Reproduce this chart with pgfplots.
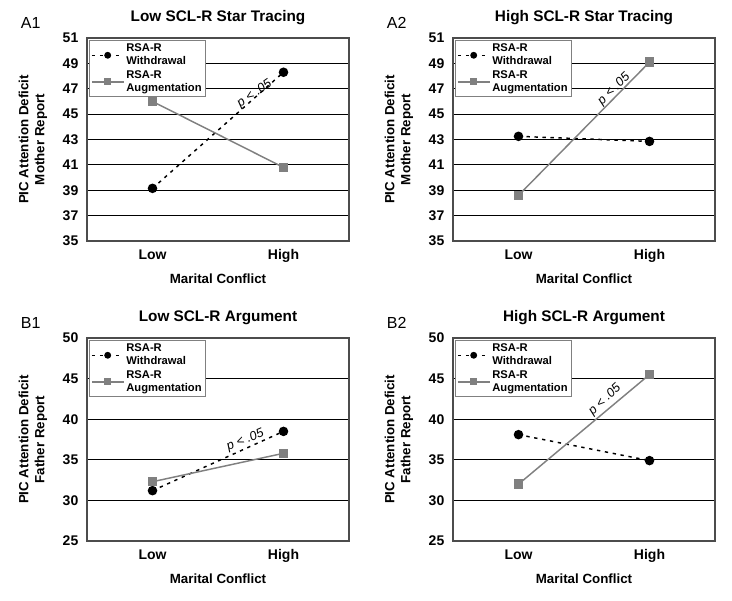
\documentclass[border=0pt]{standalone}
\usepackage{fontspec}
\setmainfont{Liberation Sans}
\usepackage{pgfplots}
\pgfplotsset{compat=1.18}
\pgfplotsset{
 panel/.style={
  scale only axis, width=196.5pt, height=152.25pt,
  xmin=-0.5, xmax=1.5, xtick={0,1}, xticklabels={Low,High},
  ymajorgrids, grid style={black, line width=0.9pt},
  axis line style={black!70, line width=0.8pt},
  major tick length=0pt,
  tick label style={font=\fontsize{10.5}{12}\selectfont\bfseries},
  /pgf/number format/assume math mode=true,
  yticklabel style={xshift=-3pt},
  xticklabel style={yshift=-3pt},
  title style={at={(0.5,1)}, anchor=base, yshift=6.75pt, font=\fontsize{11.5}{13}\selectfont\bfseries},
  xlabel={Marital Conflict},
  xlabel style={at={(axis description cs:0.5,-0.207)}, anchor=base, font=\fontsize{10}{12}\selectfont\bfseries},
  ylabel style={at={(axis description cs:-0.206,0.5)}, anchor=center, align=center, font=\fontsize{10}{12}\selectfont\bfseries},
  legend cell align=left,
  legend style={at={(0.008,0.99)}, anchor=north west, draw=black!50, line width=0.5pt, font=\fontsize{8.4}{9.6}\selectfont\bfseries, nodes={align=left, inner sep=1.5pt}, row sep=0pt, inner sep=1.2pt},
  legend image code/.code={\draw[mark repeat=2, mark phase=2, mark size=2pt] plot coordinates {(0cm,0cm)(0.42cm,0cm)(0.84cm,0cm)};},
 },
 wd/.style={black, line width=1.1pt, dash pattern=on 2.5pt off 3.5pt, mark=*, mark size=3pt, mark options={solid}},
 au/.style={black!50, line width=1.1pt, mark=square*, mark size=3pt, mark options={solid}},
}
\tikzset{pnote/.style={font=\fontsize{9.5}{11}\selectfont\itshape, anchor=center},
  plabel/.style={anchor=base west, inner sep=0pt, font=\fontsize{12}{14}\selectfont}}
\begin{document}
\begin{tikzpicture}
\useasboundingbox (0,0) rectangle (549pt,-450pt);
\node[plabel] at (15.5pt,-21pt) {A1};
\node[plabel] at (290pt,-21pt) {A2};
\node[plabel] at (15.5pt,-246pt) {B1};
\node[plabel] at (290pt,-246pt) {B2};

% A1
\begin{axis}[panel, at={(65.25pt,-28.5pt)}, anchor=north west,
  title={Low SCL-R Star Tracing}, ylabel={PIC Attention Deficit\\Mother Report},
  ymin=35, ymax=51, ytick={35,37,...,51}]
\addplot[wd] coordinates {(0,39.15) (1,48.3)};
\addlegendentry{RSA-R\\Withdrawal}
\addplot[au] coordinates {(0,46.0) (1,40.8)};
\addlegendentry{RSA-R\\Augmentation}
\node[pnote, rotate=35] at (axis cs:0.78,46.6) {p < .05};
\end{axis}

% A2
\begin{axis}[panel, at={(339.75pt,-28.5pt)}, anchor=north west,
  title={High SCL-R Star Tracing}, ylabel={PIC Attention Deficit\\Mother Report},
  ymin=35, ymax=51, ytick={35,37,...,51}]
\addplot[wd] coordinates {(0,43.25) (1,42.85)};
\addlegendentry{RSA-R\\Withdrawal}
\addplot[au] coordinates {(0,38.6) (1,49.1)};
\addlegendentry{RSA-R\\Augmentation}
\node[pnote, rotate=44] at (axis cs:0.73,46.95) {p < .05};
\end{axis}

% B1
\begin{axis}[panel, at={(65.25pt,-253.5pt)}, anchor=north west,
  title={Low SCL-R Argument}, ylabel={PIC Attention Deficit\\Father Report},
  ymin=25, ymax=50, ytick={25,30,...,50}]
\addplot[wd] coordinates {(0,31.2) (1,38.5)};
\addlegendentry{RSA-R\\Withdrawal}
\addplot[au] coordinates {(0,32.3) (1,35.8)};
\addlegendentry{RSA-R\\Augmentation}
\node[pnote, rotate=23] at (axis cs:0.71,37.4) {p < .05};
\end{axis}

% B2
\begin{axis}[panel, at={(339.75pt,-253.5pt)}, anchor=north west,
  title={High SCL-R Argument}, ylabel={PIC Attention Deficit\\Father Report},
  ymin=25, ymax=50, ytick={25,30,...,50}]
\addplot[wd] coordinates {(0,38.1) (1,34.9)};
\addlegendentry{RSA-R\\Withdrawal}
\addplot[au] coordinates {(0,32.0) (1,45.5)};
\addlegendentry{RSA-R\\Augmentation}
\node[pnote, rotate=43] at (axis cs:0.66,42.4) {p < .05};
\end{axis}
\end{tikzpicture}
\end{document}
